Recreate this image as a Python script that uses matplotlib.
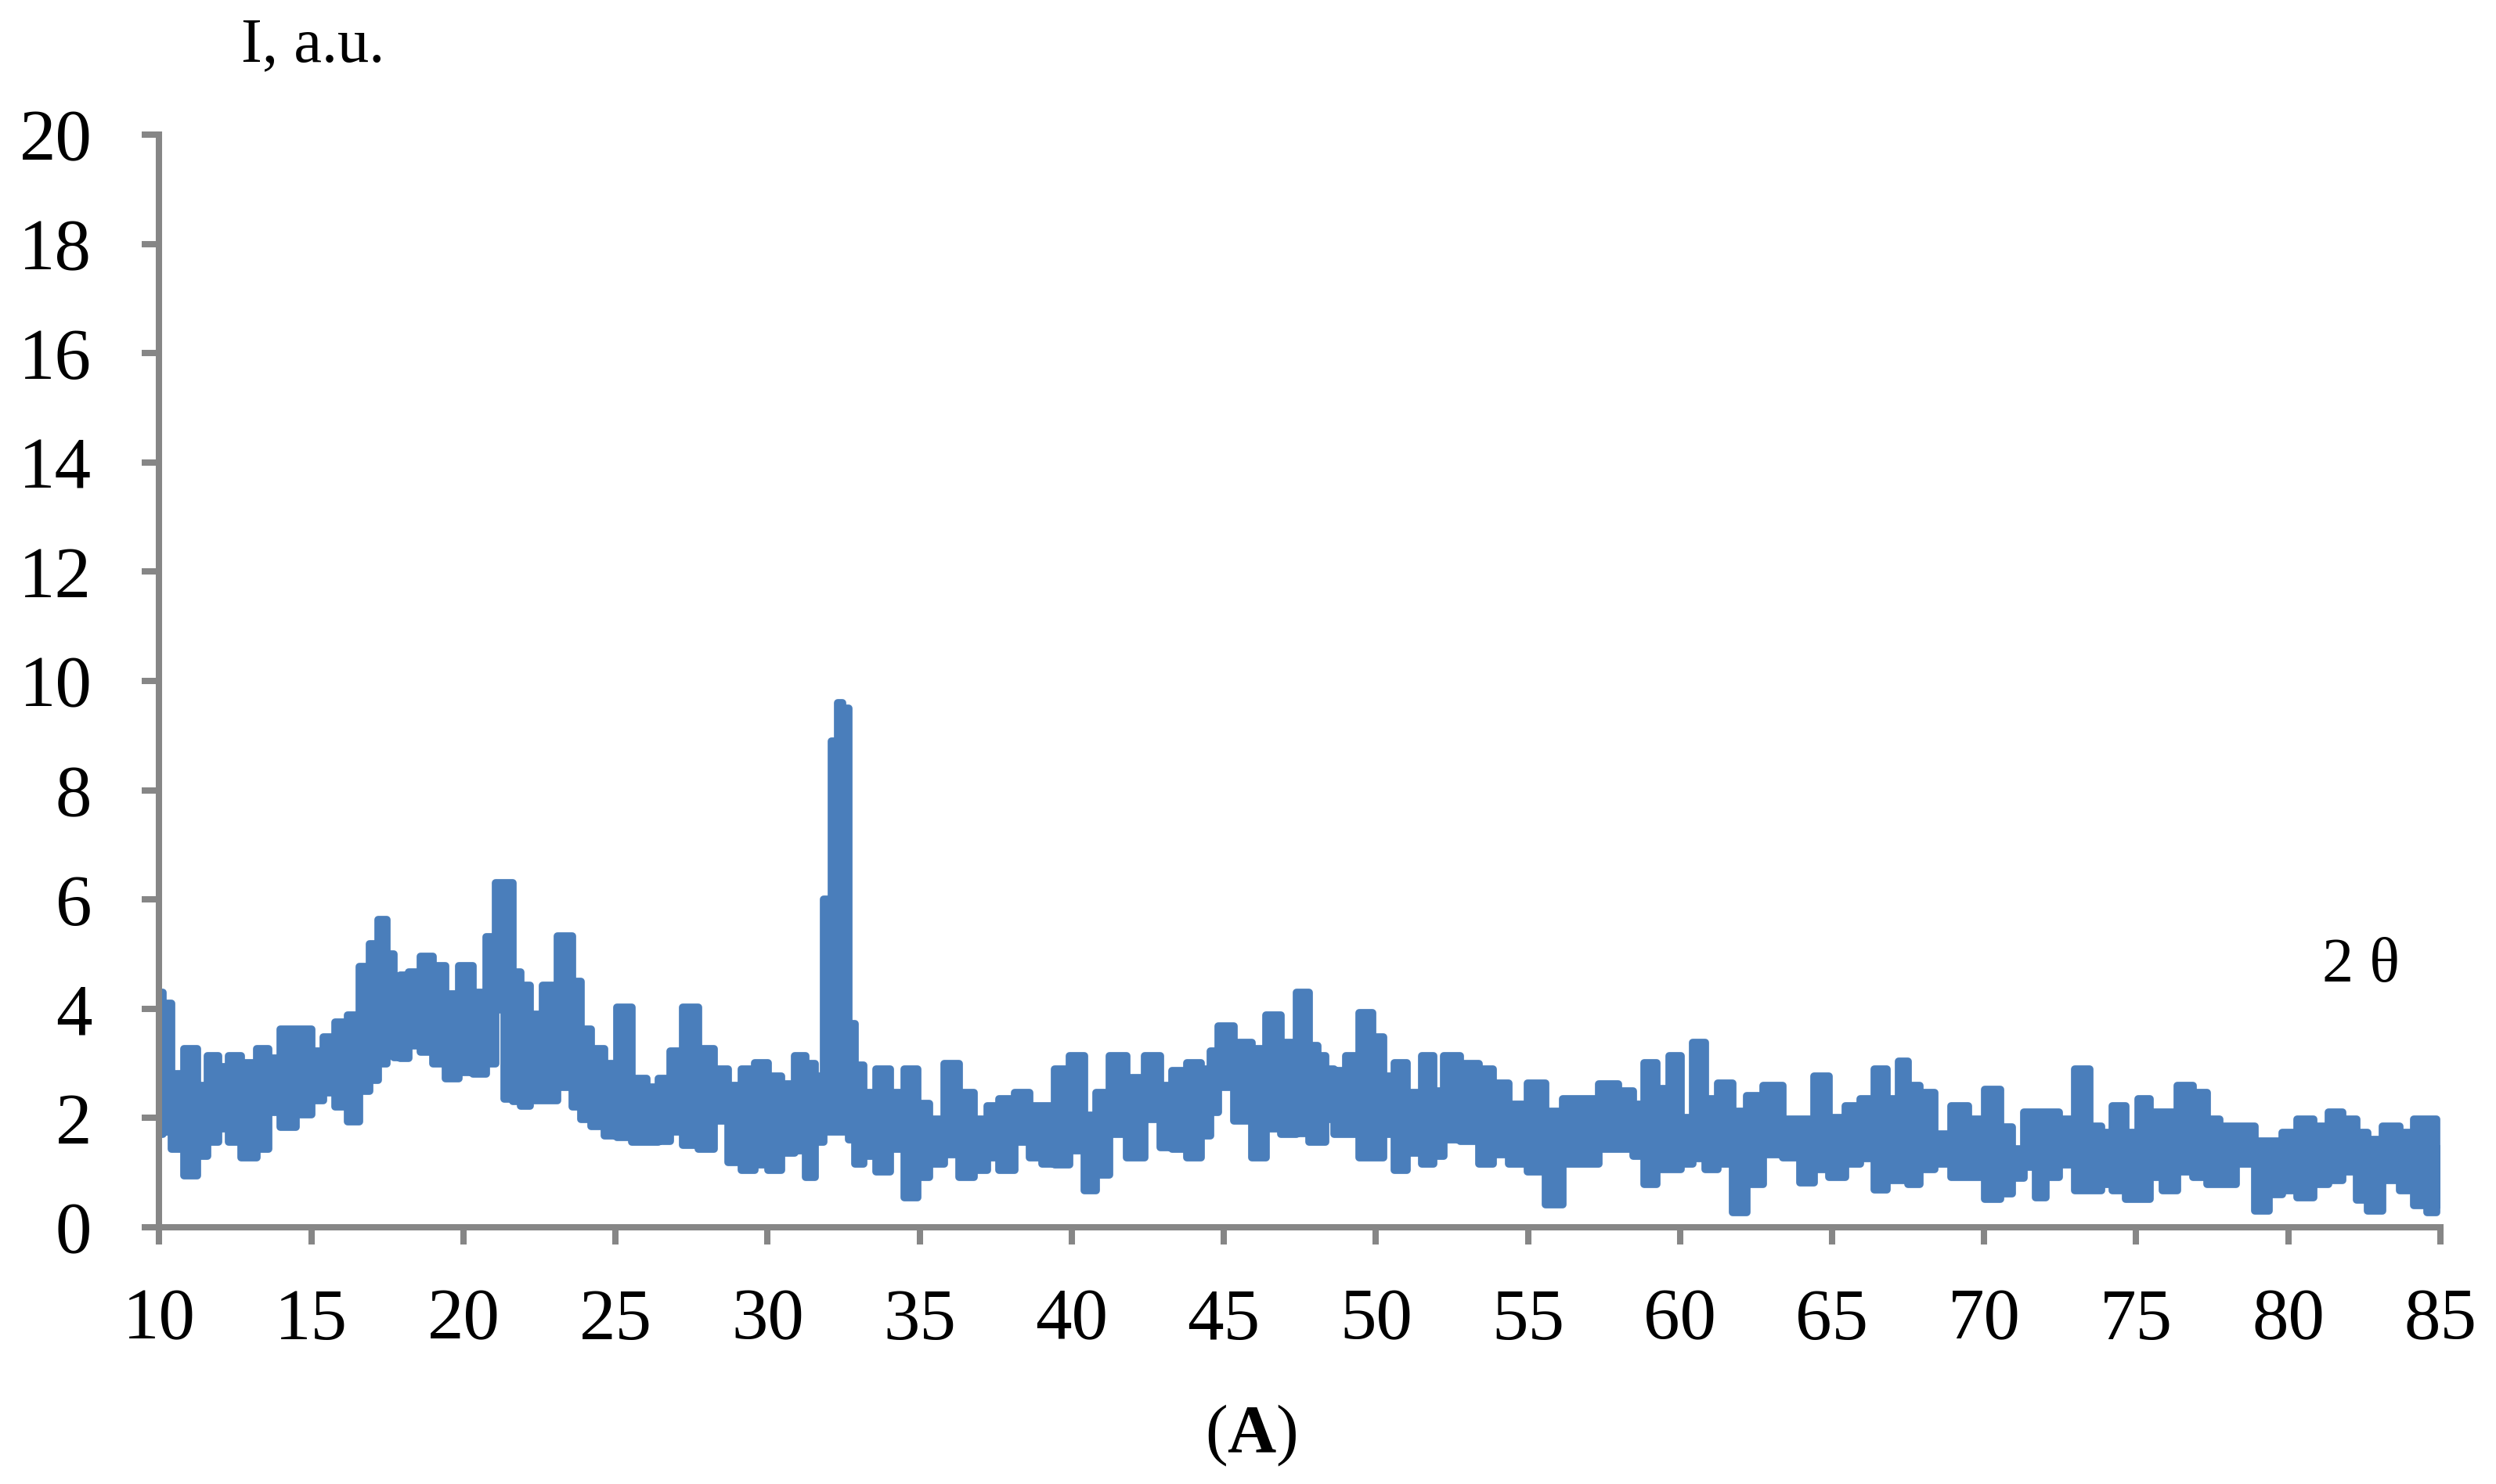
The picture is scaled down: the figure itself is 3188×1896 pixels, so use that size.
import matplotlib
matplotlib.use('Agg')
import matplotlib.pyplot as plt

two_theta = [10.0, 10.25, 10.55, 11.07, 11.41, 11.75, 12.14, 12.4, 12.96, 13.43,
             13.77, 14.2, 14.8, 15.23, 15.57, 16.0, 16.39, 16.77, 17.07, 17.33,
             17.63, 17.8, 18.06, 18.36, 18.79, 19.22, 19.6, 20.08, 20.55, 20.93,
             21.19, 21.49, 21.75, 22.0, 22.39,
             22.82, 23.38, 23.77, 23.98, 24.41, 24.84, 25.27, 25.83, 26.21, 26.6,
             26.98, 27.46, 28.01, 28.49, 28.91, 29.39, 29.77, 30.24, 30.67, 31.1,
             31.4, 31.7, 32.0, 32.2, 32.4, 32.55, 32.77, 32.99, 33.33, 33.8,
             34.28, 34.71,
             35.14, 35.52, 36.08, 36.51, 37.07, 37.37, 37.84, 38.4, 38.82, 39.21,
             39.68, 40.2, 40.63, 40.97, 41.53, 42.09, 42.73, 43.11, 43.5, 44.06,
             44.44, 44.66, 45.0, 45.69, 46.16, 46.63, 47.15, 47.65,
             47.96, 48.22, 48.48, 48.78, 49.25, 49.68, 50.11, 50.41, 50.79, 51.27,
             51.74, 52.08, 52.38, 53.15, 53.62, 54.1, 54.65, 55.3, 55.86, 56.41,
             57.01, 57.66, 58.3, 58.64, 59.03, 59.46, 59.85, 60.23,
             60.61, 61.04, 61.47, 61.99, 62.42, 63.06, 63.7, 64.18, 64.65, 65.16,
             65.72, 66.15, 66.62, 67.01, 67.35, 67.65, 68.12, 68.64, 69.2, 69.75,
             70.31, 70.78, 71.08, 71.51, 71.86, 72.2, 72.71,
             73.23, 73.7, 74.0, 74.43, 74.9, 75.25, 75.63, 76.1, 76.62, 77.13,
             77.52, 77.95, 78.64, 79.15, 79.58, 80.01, 80.57, 81.08, 81.55, 82.03,
             82.45, 82.75, 83.44, 83.87, 84.38, 84.73, 85.0]

upper = [4.3, 4.1, 2.81, 3.26, 2.59, 3.14, 2.94, 3.14, 3.01, 3.26,
         3.1, 3.63, 3.63, 3.23, 3.48, 3.75, 3.88, 4.77, 5.19, 5.63,
         5.0, 4.02, 4.62, 4.67, 4.96, 4.79, 4.27, 4.79, 4.30, 5.31,
         6.3, 6.3, 4.67, 4.42, 3.9,
         4.42, 5.33, 4.5, 3.63, 3.26, 2.99, 4.02, 2.72, 2.57, 2.72,
         3.23, 4.02, 3.26, 2.89, 2.59, 2.89, 3.01, 2.77, 2.62, 3.14,
         3.0, 2.77, 6.0, 8.9, 9.6, 9.5, 3.73, 2.96, 2.47, 2.89,
         2.47, 2.89,
         2.27, 1.98, 2.99, 2.47, 1.98, 2.22, 2.35, 2.47, 2.22, 2.22,
         2.89, 3.14, 2.05, 2.47, 3.14, 2.74, 3.14, 2.59, 2.86, 3.01,
         2.89, 3.23, 3.68, 3.38, 3.26, 3.88, 3.38, 4.30,
         3.33, 3.14, 2.9, 2.86, 3.14, 3.93, 3.48, 2.77, 3.01, 2.47,
         3.14, 2.49, 3.14, 2.99, 2.9, 2.64, 2.25, 2.64, 2.12, 2.35,
         2.35, 2.62, 2.49, 2.25, 3.01, 2.54, 3.14, 2.0,
         3.38, 2.35, 2.64, 2.12, 2.40, 2.59, 1.98, 1.98, 2.77, 2.0,
         2.22, 2.35, 2.89, 2.35, 3.04, 2.6, 2.47, 1.70, 2.22, 1.98,
         2.52, 1.83, 1.43, 2.10, 2.10, 2.10, 1.98,
         2.89, 1.85, 1.73, 2.22, 1.73, 2.35, 2.10, 2.10, 2.59, 2.47,
         1.98, 1.85, 1.85, 1.58, 1.58, 1.73, 1.98, 1.85, 2.10, 1.98,
         1.73, 1.6, 1.85, 1.73, 1.98, 1.98, 1.43]

lower = [1.7, 1.75, 1.43, 0.95, 1.31, 1.56, 1.80, 1.56, 1.28, 1.43,
         2.1, 1.83, 2.07, 2.32, 2.47, 2.2, 1.93, 2.49, 2.69, 3.0,
         3.3, 3.11, 3.09, 3.33, 3.21, 2.99, 2.72, 2.84, 2.81, 2.99,
         3.98, 2.35, 2.30, 2.22, 2.32,
         2.32, 2.57, 2.2, 1.98, 1.85, 1.68, 1.65, 1.56, 1.56, 1.58,
         1.75, 1.5, 1.43, 1.95, 1.19, 1.04, 1.14, 1.04, 1.36, 1.4,
         0.91, 1.56, 1.75, 1.75, 1.75, 1.75, 1.6, 1.16, 1.31, 1.01,
         1.43, 0.54,
         0.91, 1.16, 1.33, 0.91, 1.04, 1.28, 1.04, 1.56, 1.28, 1.16,
         1.14, 1.4, 0.67, 0.96, 1.70, 1.28, 1.98, 1.46, 1.43, 1.28,
         1.68, 2.10, 2.57, 1.95, 1.28, 1.80, 1.70, 1.72,
         1.56, 1.56, 1.98, 1.70, 1.70, 1.28, 1.28, 1.70, 1.04, 1.36,
         1.16, 1.3, 1.60, 1.58, 1.16, 1.33, 1.16, 1.01, 0.42, 1.16,
         1.16, 1.43, 1.43, 1.3, 0.79, 1.06, 1.06, 1.16,
         1.26, 1.06, 1.16, 0.27, 0.79, 1.33, 1.28, 0.81, 1.06, 0.91,
         1.16, 1.26, 0.69, 0.86, 0.86, 0.79, 1.06, 1.16, 0.91, 0.91,
         0.52, 0.62, 0.9, 1.1, 0.54, 0.91, 1.14,
         0.67, 0.67, 0.79, 0.67, 0.52, 0.52, 0.91, 0.67, 1.01, 0.91,
         0.79, 0.79, 1.16, 0.30, 0.6, 0.67, 0.54, 0.79, 0.86, 1.01,
         0.5, 0.30, 0.86, 0.67, 0.4, 0.27, 0.42]

x_ticks = list(range(10, 90, 5))
y_ticks = list(range(0, 22, 2))

blue = '#4a7ebb'
grey = '#868686'

plt.rcParams['font.family'] = ['Liberation Serif', 'DejaVu Serif']
plt.rcParams['mathtext.fontset'] = 'custom'
plt.rcParams['mathtext.rm'] = 'Liberation Serif'
plt.rcParams['mathtext.bf'] = 'Liberation Serif:bold'

fig = plt.figure(figsize=(15.94, 9.48), dpi=200)
ax = fig.add_axes([0.0638, 0.173, 0.9139, 0.7363])

# noisy trace drawn as a filled band between the envelopes
ax.fill_between(two_theta, lower, upper, step='mid', color=blue, lw=0)
for env in (upper, lower):
    ax.plot(two_theta, env, drawstyle='steps-mid', color=blue, lw=3.5,
            solid_joinstyle='round', solid_capstyle='round')

ax.set_xlim(10, 85)
ax.set_ylim(0, 20)
ax.set_xticks(x_ticks)
ax.set_yticks(y_ticks)

for s in ['top', 'right']:
    ax.spines[s].set_visible(False)
for s in ['left', 'bottom']:
    ax.spines[s].set_color(grey)
    ax.spines[s].set_linewidth(2.9)

ax.tick_params(direction='out', length=8, width=2.9, color=grey, labelsize=33.5)
ax.tick_params(axis='x', pad=20)
ax.tick_params(axis='y', pad=23)

fig.text(0.0966, 0.9585, 'I, a.u.', fontsize=29, va='baseline', ha='left')
fig.text(0.946, 0.349, '2 θ', fontsize=29, va='center', ha='center')
fig.text(0.5013, 0.0322, '($\\mathbf{A}$)', fontsize=31, va='center', ha='center')

fig.savefig('out.png', dpi=200)
